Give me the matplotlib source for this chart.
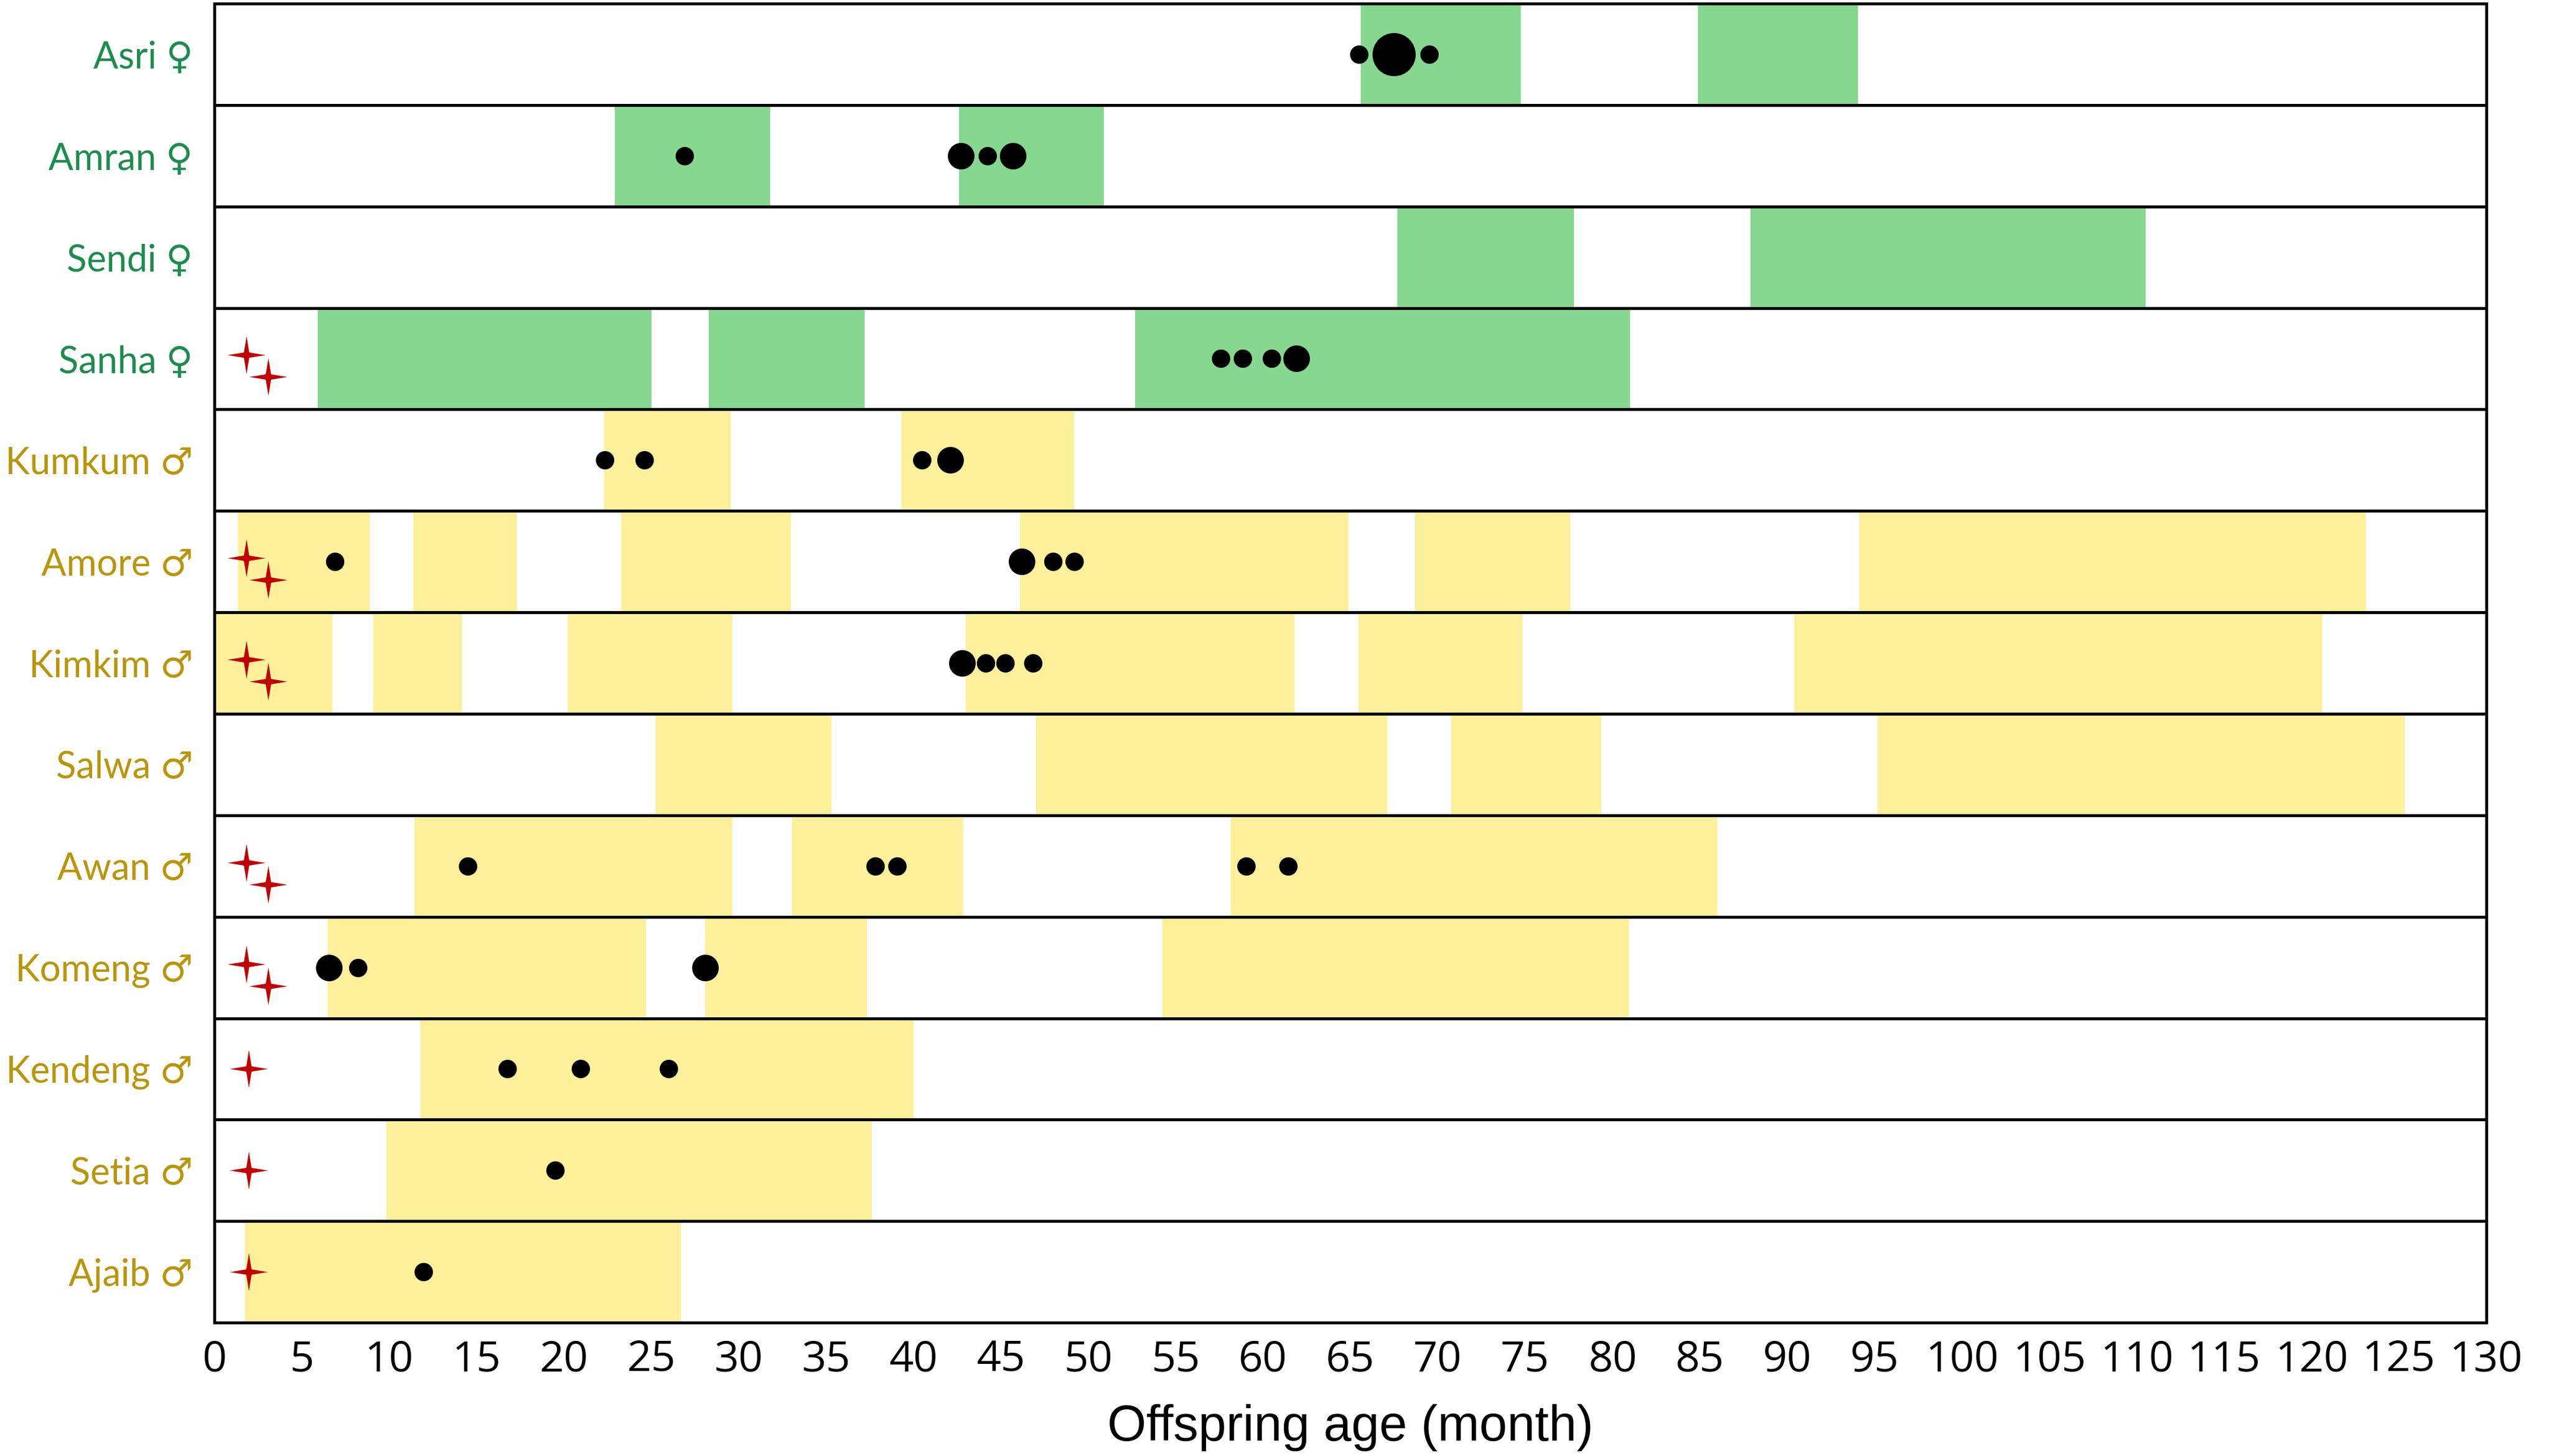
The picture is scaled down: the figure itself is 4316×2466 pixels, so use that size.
import matplotlib
matplotlib.use('Agg')
import matplotlib.pyplot as plt
import numpy as np
from matplotlib.path import Path

# offspring names, top to bottom, and sex
names = ['Asri', 'Amran', 'Sendi', 'Sanha', 'Kumkum', 'Amore', 'Kimkim',
         'Salwa', 'Awan', 'Komeng', 'Kendeng', 'Setia', 'Ajaib']
sexes = ['F', 'F', 'F', 'F', 'M', 'M', 'M', 'M', 'M', 'M', 'M', 'M', 'M']

# shaded periods (start, end) in months for each offspring
periods = [
    [(65.6, 74.75), (84.9, 94.05)],
    [(22.9, 31.8), (42.6, 50.9)],
    [(67.7, 77.8), (87.9, 110.5)],
    [(5.9, 25.0), (28.3, 37.2), (52.7, 81.0)],
    [(22.3, 29.55), (39.3, 49.2)],
    [(1.35, 8.9), (11.4, 17.3), (23.3, 33.0), (46.1, 64.9), (68.7, 77.6), (94.1, 123.1)],
    [(0.0, 6.75), (9.1, 14.15), (20.2, 29.65), (43.0, 61.8), (65.45, 74.85), (90.4, 120.6)],
    [(25.25, 35.3), (47.0, 67.1), (70.75, 79.35), (95.15, 125.35)],
    [(11.45, 29.65), (33.05, 42.85), (58.15, 86.0)],
    [(6.5, 24.7), (28.1, 37.35), (54.25, 80.95)],
    [(11.8, 40.0)],
    [(9.85, 37.6)],
    [(1.75, 26.7)],
]

# events: age in months and size class (1 small, 2 medium, 3 large)
event_ages = [
    [65.5, 67.5, 69.5],
    [26.9, 42.7, 44.25, 45.7],
    [],
    [57.6, 58.85, 60.5, 61.9],
    [22.35, 24.6, 40.5, 42.1],
    [6.9, 46.2, 48.0, 49.2],
    [42.8, 44.15, 45.25, 46.85],
    [],
    [14.5, 37.8, 39.05, 59.05, 61.45],
    [6.55, 8.2, 28.1],
    [16.75, 20.95, 26.0],
    [19.5],
    [11.95],
]
event_sizes = [
    [1, 3, 1],
    [1, 2, 1, 2],
    [],
    [1, 1, 1, 2],
    [1, 1, 1, 2],
    [1, 2, 1, 1],
    [2, 1, 1, 1],
    [],
    [1, 1, 1, 1, 1],
    [2, 1, 2],
    [1, 1, 1],
    [1],
    [1],
]

# number of red stars per offspring
star_counts = [0, 0, 0, 2, 0, 2, 2, 0, 2, 2, 1, 1, 1]

xticks = np.arange(0, 131, 5)

green_bar = '#86D78F'
yellow_bar = '#FDF09A'
green_text = '#1E8C4E'
gold_text = '#B8960C'
star_red = '#C00000'

dot_diam = {1: 11.2, 2: 16.2, 3: 26.3}
label_font = ['Lato', 'DejaVu Sans']


def star_marker(inner=0.2):
    # four-pointed star
    verts = []
    for k in range(8):
        ang = np.pi / 2 + k * np.pi / 4
        r = 1.0 if k % 2 == 0 else inner
        verts.append((r * np.cos(ang), r * np.sin(ang)))
    verts.append(verts[0])
    codes = [Path.MOVETO] + [Path.LINETO] * 7 + [Path.CLOSEPOLY]
    return Path(verts, codes)


def plot_chart():
    fig = plt.figure(figsize=(21.58, 12.33), dpi=200)
    ax = fig.add_axes([0.0841, 0.0916, 0.8913, 0.9060])

    n = len(names)
    for i in range(n):
        col = green_bar if sexes[i] == 'F' else yellow_bar
        for start, end in periods[i]:
            ax.barh(i, end - start, left=start, height=1.0, color=col,
                    edgecolor='none', zorder=1)

    # row separators
    for i in range(n - 1):
        ax.axhline(i + 0.5, color='black', lw=1.8, zorder=2)

    # events
    for i in range(n):
        for age, sz in zip(event_ages[i], event_sizes[i]):
            ax.plot(age, i, 'o', color='black', ms=dot_diam[sz],
                    markeredgewidth=0, zorder=4)

    # stars
    star = star_marker()
    for i in range(n):
        if star_counts[i] == 2:
            pts = [(1.82, i - 0.035), (3.08, i + 0.18)]
        elif star_counts[i] == 1:
            pts = [(1.96, i)]
        else:
            pts = []
        for sx, sy in pts:
            ax.plot(sx, sy, marker=star, color=star_red, ms=23,
                    markeredgewidth=0, linestyle='none', zorder=5)

    ax.set_xlim(0, 130)
    ax.set_ylim(n - 0.5, -0.5)

    ax.set_xticks(xticks)
    ax.set_xticklabels([str(t) for t in xticks],
                       family=['Open Sans', 'DejaVu Sans'], fontsize=26)
    ax.set_yticks(range(n))
    labels = [nm + (' \u2640' if s == 'F' else ' \u2642')
              for nm, s in zip(names, sexes)]
    ax.set_yticklabels(labels, family=label_font, fontsize=22.5)
    for lab, s in zip(ax.get_yticklabels(), sexes):
        lab.set_color(green_text if s == 'F' else gold_text)

    ax.tick_params(axis='both', length=0)
    ax.tick_params(axis='x', pad=10)
    ax.tick_params(axis='y', pad=13)
    ax.set_xlabel('Offspring age (month)', family='Liberation Sans',
                  fontsize=30.5, labelpad=14)

    for sp in ax.spines.values():
        sp.set_linewidth(1.8)
        sp.set_zorder(6)

    fig.savefig('out.png', dpi=200)


if __name__ == '__main__':
    plot_chart()
